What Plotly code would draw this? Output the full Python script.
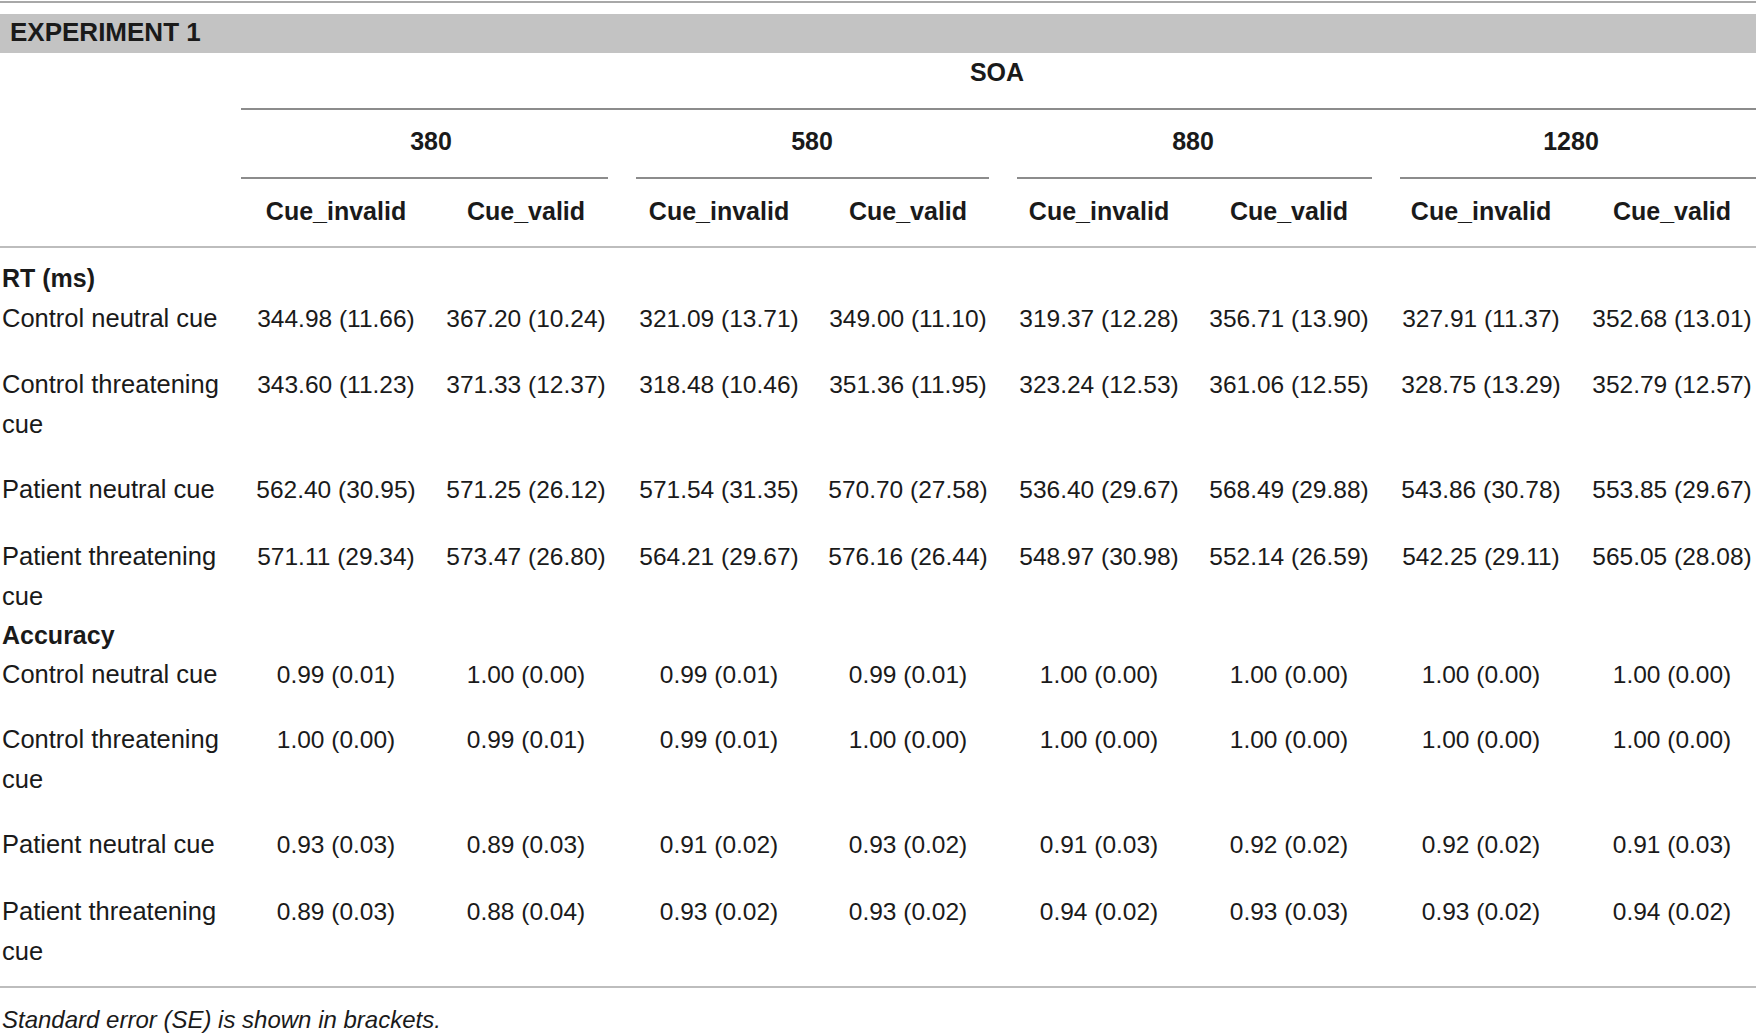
import plotly.graph_objects as go

# --- table content ---
soa_levels = ["380", "580", "880", "1280"]
cue_types = ["Cue_invalid", "Cue_valid"]

row_labels = [["Control neutral cue"],
              ["Control threatening", "cue"],
              ["Patient neutral cue"],
              ["Patient threatening", "cue"]]

# RT (ms): mean per column, 380 inv/val, 580 inv/val, 880 inv/val, 1280 inv/val
rt_mean = [
    [344.98, 367.20, 321.09, 349.00, 319.37, 356.71, 327.91, 352.68],
    [343.60, 371.33, 318.48, 351.36, 323.24, 361.06, 328.75, 352.79],
    [562.40, 571.25, 571.54, 570.70, 536.40, 568.49, 543.86, 553.85],
    [571.11, 573.47, 564.21, 576.16, 548.97, 552.14, 542.25, 565.05],
]
rt_se = [
    [11.66, 10.24, 13.71, 11.10, 12.28, 13.90, 11.37, 13.01],
    [11.23, 12.37, 10.46, 11.95, 12.53, 12.55, 13.29, 12.57],
    [30.95, 26.12, 31.35, 27.58, 29.67, 29.88, 30.78, 29.67],
    [29.34, 26.80, 29.67, 26.44, 30.98, 26.59, 29.11, 28.08],
]
acc_mean = [
    [0.99, 1.00, 0.99, 0.99, 1.00, 1.00, 1.00, 1.00],
    [1.00, 0.99, 0.99, 1.00, 1.00, 1.00, 1.00, 1.00],
    [0.93, 0.89, 0.91, 0.93, 0.91, 0.92, 0.92, 0.91],
    [0.89, 0.88, 0.93, 0.93, 0.94, 0.93, 0.93, 0.94],
]
acc_se = [
    [0.01, 0.00, 0.01, 0.01, 0.00, 0.00, 0.00, 0.00],
    [0.00, 0.01, 0.01, 0.00, 0.00, 0.00, 0.00, 0.00],
    [0.03, 0.03, 0.02, 0.02, 0.03, 0.02, 0.02, 0.03],
    [0.03, 0.04, 0.02, 0.02, 0.02, 0.03, 0.02, 0.02],
]

# --- layout (pixel grid) ---
W, H = 1756, 1033
col_x = [336, 526, 719, 908, 1099, 1289, 1481, 1672]
group_x = [431, 812, 1193, 1571]
group_span = [(241, 608), (636, 989), (1017, 1372), (1400, 1756)]
rt_rows_y = [321, 387, 492, 559]
acc_rows_y = [677, 742, 847, 914]
wrap_gap = 40
left_x = 2

TXT = "#1a1a1a"
FAM = "Liberation Sans, Arial, sans-serif"
BODY = dict(family=FAM, size=24.5, color=TXT)
LABEL = dict(family=FAM, size=25.5, color=TXT)
BOLD = dict(family=FAM, size=25, color=TXT, weight="bold")

fig = go.Figure()


def add_text(xs, ys, texts, font, pos="middle center"):
    fig.add_trace(go.Scatter(x=xs, y=ys, text=texts, mode="text",
                             textposition=pos, textfont=font, cliponaxis=False,
                             hoverinfo="skip", showlegend=False))


# header
add_text([10], [34], ["EXPERIMENT 1"], dict(BOLD, size=26), "middle right")
add_text([997], [75], ["SOA"], BOLD)
add_text(group_x, [144] * 4, soa_levels, BOLD)
add_text(col_x, [214] * 8, cue_types * 4, BOLD)

# section labels
add_text([left_x, left_x], [281, 638], ["RT (ms)", "Accuracy"], BOLD, "middle right")


def add_block(rows_y, means, ses, fmt):
    lx, ly, lt = [], [], []
    for y, lines in zip(rows_y, row_labels):
        for k, line in enumerate(lines):
            lx.append(left_x)
            ly.append(y + k * wrap_gap)
            lt.append(line)
    add_text(lx, ly, lt, LABEL, "middle right")
    for j, x in enumerate(col_x):
        txt = [fmt.format(means[i][j], ses[i][j]) for i in range(len(rows_y))]
        add_text([x] * len(rows_y), rows_y, txt, BODY)


add_block(rt_rows_y, rt_mean, rt_se, "{:.2f} ({:.2f})")
add_block(acc_rows_y, acc_mean, acc_se, "{:.2f} ({:.2f})")

# footnote
add_text([left_x], [1022], ["<i>Standard error (SE) is shown in brackets.</i>"],
         dict(BODY, size=24), "middle right")

# rules and header band
shapes = [
    dict(type="line", x0=0, x1=W, y0=2, y1=2, line=dict(color="#a8a8a8", width=2)),
    dict(type="rect", x0=0, x1=W, y0=14, y1=53, fillcolor="#c3c3c3", line=dict(width=0), layer="below"),
    dict(type="line", x0=241, x1=W, y0=109, y1=109, line=dict(color="#8c8c8c", width=2)),
    dict(type="line", x0=0, x1=W, y0=247, y1=247, line=dict(color="#bdbdbd", width=2)),
    dict(type="line", x0=0, x1=W, y0=987, y1=987, line=dict(color="#bdbdbd", width=2)),
]
for a, b in group_span:
    shapes.append(dict(type="line", x0=a, x1=b, y0=178, y1=178, line=dict(color="#8c8c8c", width=2)))

fig.update_layout(
    width=W, height=H,
    margin=dict(l=0, r=0, t=0, b=0),
    paper_bgcolor="white", plot_bgcolor="white",
    xaxis=dict(range=[0, W], visible=False, fixedrange=True),
    yaxis=dict(range=[H, 0], visible=False, fixedrange=True),
    shapes=shapes,
)

# page body has an 8px default margin; drop it so the figure fills the window
fig.write_html("out.html", config=dict(displayModeBar=False),
               post_script="document.body.style.margin='0';")
